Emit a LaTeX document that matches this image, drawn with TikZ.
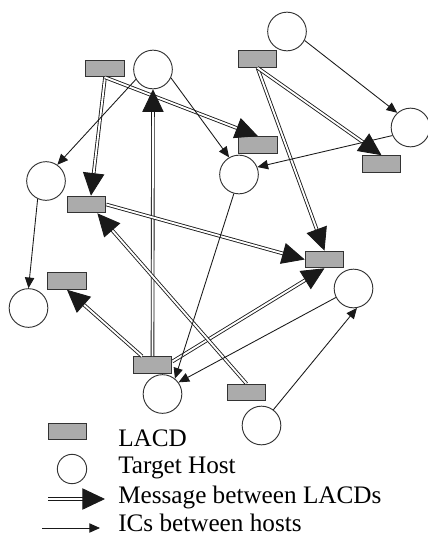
\documentclass[tikz,border=0pt]{standalone}
\usepackage{fontspec}
\setmainfont{Liberation Serif}
\usetikzlibrary{arrows.meta}
\begin{document}
\begin{tikzpicture}[x=0.75pt,y=-0.75pt,
  lacd/.style={draw=black!80, fill=black!33, line width=0.7pt, minimum width=29pt, minimum height=12.5pt, inner sep=0pt},
  host/.style={draw=black!80, circle, line width=0.7pt, minimum size=29pt, inner sep=0pt, fill=white},
  msg/.style={draw=black!90, double=white, double distance=1.4pt, line width=0.65pt, -{Triangle[length=17pt,width=16pt]}},
  ic/.style={draw=black!90, line width=0.65pt, -{Triangle[length=8pt,width=7pt]}},
  lbl/.style={anchor=base west, inner sep=0pt, font=\fontsize{18.9}{22}\selectfont}]
\useasboundingbox (0,0) rectangle (428,539);
% LACDs
\node[lacd] (R1) at (105,68.5) {};
\node[lacd] (R2) at (257.5,59) {};
\node[lacd] (R3) at (258,145) {};
\node[lacd] (R4) at (381.5,164) {};
\node[lacd] (R5) at (86.5,204.5) {};
\node[lacd] (R6) at (324.5,259.5) {};
\node[lacd] (R7) at (67,281) {};
\node[lacd] (R8) at (152.5,365) {};
\node[lacd] (R9) at (246.5,392.5) {};
% hosts
\node[host] (C1) at (153,69.5) {};
\node[host] (C2) at (287,31.5) {};
\node[host] (C3) at (410.5,127.5) {};
\node[host] (C4) at (239,174.5) {};
\node[host] (C5) at (46,181) {};
\node[host] (C6) at (28.5,308) {};
\node[host] (C7) at (353.5,288.5) {};
\node[host] (C8) at (162.5,394) {};
\node[host] (C9) at (261.5,425.5) {};
% messages between LACDs
\draw[msg] (R1.south) -- (R5.63);
\draw[msg] (R1.south) -- (R3.north);
\draw[msg] (R8.north) -- (C1.south);
\draw[msg] (R2.south) -- (R6.north);
\draw[msg] (R2.south) -- (R4.north);
\draw[msg] (R5.east) -- (R6.west);
\draw[msg] (R8.10) -- (R6.south);
\draw[msg] (R8.140) -- (R7.south);
\draw[msg] (R9.north) -- (R5.-39);
% ICs between hosts
\draw[ic] (C1.210) -- (C5.55);
\draw[ic] (C1.335) -- (C4.120);
\draw[ic] (C2.333) -- (C3.132);
\draw[ic] (C3.204) -- (C4.22);
\draw[ic] (C5.245) -- (C6.north);
\draw[ic] (C4.255) -- (C8.51);
\draw[ic] (C7.207) -- (C8.36);
\draw[ic] (C9.53) -- (C7.280);
% legend
\node[lacd] (L1) at (67.5,431.5) {};
\node[host, minimum size=22pt] (L2) at (72,469) {};
\coordinate (m1) at (48,499);
\coordinate (m2) at (105,499);
\coordinate (i1) at (42,528);
\coordinate (i2) at (100,528);
\draw[msg] (m1) -- (m2);
\draw[ic] (i1) -- (i2);
\node[lbl] (t1) at (118,446) {LACD};
\node[lbl] (t2) at (118,473) {Target Host};
\node[lbl] (t3) at (118,503) {Message between LACDs};
\node[lbl] (t4) at (118,531) {ICs between hosts};
\end{tikzpicture}
\end{document}
